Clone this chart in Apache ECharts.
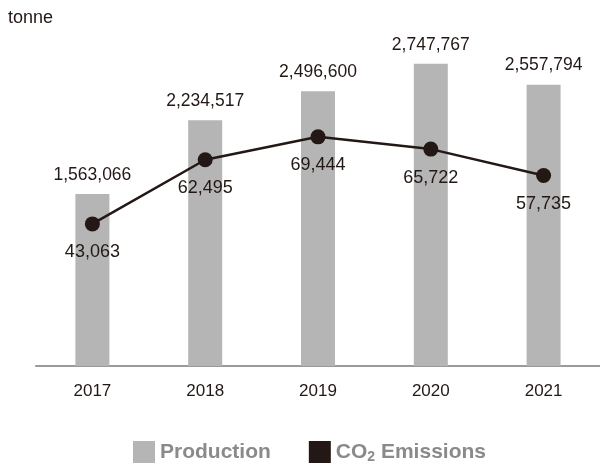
<!DOCTYPE html>
<html>
<head>
<meta charset="utf-8">
<script src="https://cdn.jsdelivr.net/npm/echarts@6/dist/echarts.min.js"></script>
<style>
  html, body { margin: 0; padding: 0; background: #ffffff; }
  #chart { width: 600px; height: 464px; }
</style>
</head>
<body>
<div id="chart"></div>
<script>
// Annual figures, in tonnes
const years = ['2017', '2018', '2019', '2020', '2021'];
const production = [1563066, 2234517, 2496600, 2747767, 2557794];
const emissions = [43063, 62495, 69444, 65722, 57735];

const FONT = '"Liberation Sans", Arial, Helvetica, sans-serif';
const INK = '#231815';
const LEGEND_GREY = '#8a8a8a';
const fmt = v => v.toLocaleString('en-US');

const chart = echarts.init(document.getElementById('chart'));
chart.setOption({
  animation: false,
  textStyle: { fontFamily: FONT },
  title: {
    text: 'tonne',
    left: 3,
    top: 4,
    textStyle: { fontFamily: FONT, fontSize: 18, fontWeight: 'normal', color: INK }
  },
  grid: { left: 36, right: 0, top: 36, bottom: 98, containLabel: false },
  legend: {
    top: 436,
    left: 128,
    itemWidth: 22,
    itemHeight: 22,
    itemGap: 38,
    textStyle: {
      fontFamily: FONT, fontSize: 21, fontWeight: 'bold', color: LEGEND_GREY,
      rich: {
        a: { fontFamily: FONT, fontSize: 21, fontWeight: 'bold', color: LEGEND_GREY },
        sub: { fontFamily: FONT, fontSize: 14, fontWeight: 'bold', color: LEGEND_GREY, padding: [11, 0, 0, 0] }
      }
    },
    data: [
      { name: 'Production', icon: 'rect' },
      { name: 'CO2 Emissions', icon: 'rect' }
    ],
    formatter: name => name === 'CO2 Emissions' ? '{a|CO}{sub|2}{a| Emissions}' : name
  },
  xAxis: {
    type: 'category',
    data: years,
    axisTick: { show: false },
    axisLine: { lineStyle: { color: '#9a9a9a', width: 2 } },
    axisLabel: { fontFamily: FONT, fontSize: 17, color: INK, margin: 17 }
  },
  yAxis: [
    { type: 'value', min: 0, max: 3000000, show: false, splitLine: { show: false } },
    { type: 'value', min: 0, max: 100000, show: false, splitLine: { show: false } }
  ],
  series: [
    {
      name: 'Production',
      type: 'bar',
      data: production,
      barWidth: 34,
      itemStyle: { color: '#b5b5b5' },
      label: {
        show: true, position: 'top', distance: 10,
        fontFamily: FONT, fontSize: 17.5, color: INK,
        formatter: p => fmt(p.value)
      }
    },
    {
      name: 'CO2 Emissions',
      type: 'line',
      yAxisIndex: 1,
      data: emissions,
      symbol: 'circle',
      symbolSize: 15,
      lineStyle: { color: INK, width: 2.5 },
      itemStyle: { color: INK },
      label: {
        show: true, position: 'bottom', distance: 12,
        fontFamily: FONT, fontSize: 18, color: INK,
        formatter: p => fmt(p.value)
      }
    }
  ]
});
</script>
</body>
</html>
